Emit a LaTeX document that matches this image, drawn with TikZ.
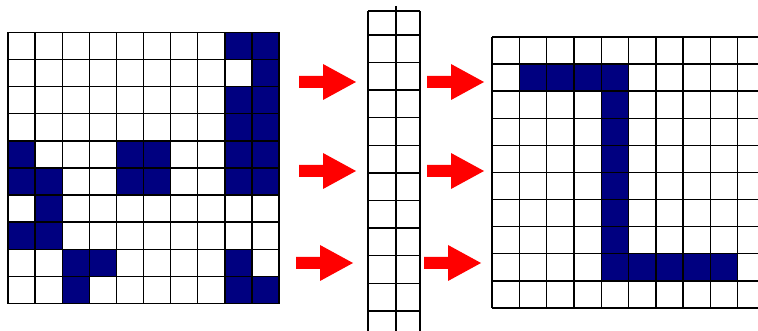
\documentclass[tikz,border=0pt]{standalone}
\definecolor{navy}{RGB}{0,0,128}
\begin{document}
\begin{tikzpicture}[x=1pt,y=-1pt,
  gridline/.style={line width=1.4pt, black},
  cellfill/.style={fill=navy},
  bigarrow/.style={fill=red}]
\useasboundingbox (0,0) rectangle (758,331);
\clip (0,0) rectangle (758,331);
% left grid cells (col/row)
\foreach \c/\r in {8/0,9/0, 9/1, 8/2,9/2, 8/3,9/3, 0/4,4/4,5/4,8/4,9/4,
  0/5,1/5,4/5,5/5,8/5,9/5, 1/6, 0/7,1/7, 2/8,3/8,8/8, 2/9,8/9,9/9}
  \fill[cellfill] ({8+\c*27.1},{32.5+\r*27.1}) rectangle ++(27.1,27.1);
\foreach \k in {0,...,10}{
  \draw[gridline] ({8+\k*27.1},32.5) -- ({8+\k*27.1},303.5);
  \draw[gridline] (8,{32.5+\k*27.1}) -- (279,{32.5+\k*27.1});
}
% middle column
\draw[gridline] (368,11) -- (368,335);
\draw[gridline] (420,11) -- (420,335);
\draw[gridline] (396,6) -- (396,335);
\draw[gridline] (368,11) -- (420,11);
\foreach \k in {0,...,10}
  \draw[gridline] (368,{35+\k*27.6}) -- (420,{35+\k*27.6});
% right grid cells
\foreach \c/\r in {1/1,2/1,3/1,4/1, 4/2,4/3,4/4,4/5,4/6,4/7, 4/8,5/8,6/8,7/8,8/8}
  \fill[cellfill] ({492+\c*27.3},{37+\r*27.1}) rectangle ++(27.3,27.1);
\foreach \k in {0,...,10}{
  \draw[gridline] ({492+\k*27.3},37) -- ({492+\k*27.3},308);
  \draw[gridline] (492,{37+\k*27.1}) -- (770,{37+\k*27.1});
}
% arrows
\foreach \x/\y in {299/82, 299/171, 296/263, 427/82, 427/171, 424/263}
  \fill[bigarrow] (\x,{\y-6}) -- ++(24,0) -- ++(0,-12) -- ++(33,18)
    -- ++(-33,18) -- ++(0,-12) -- ++(-24,0) -- cycle;
\end{tikzpicture}
\end{document}
